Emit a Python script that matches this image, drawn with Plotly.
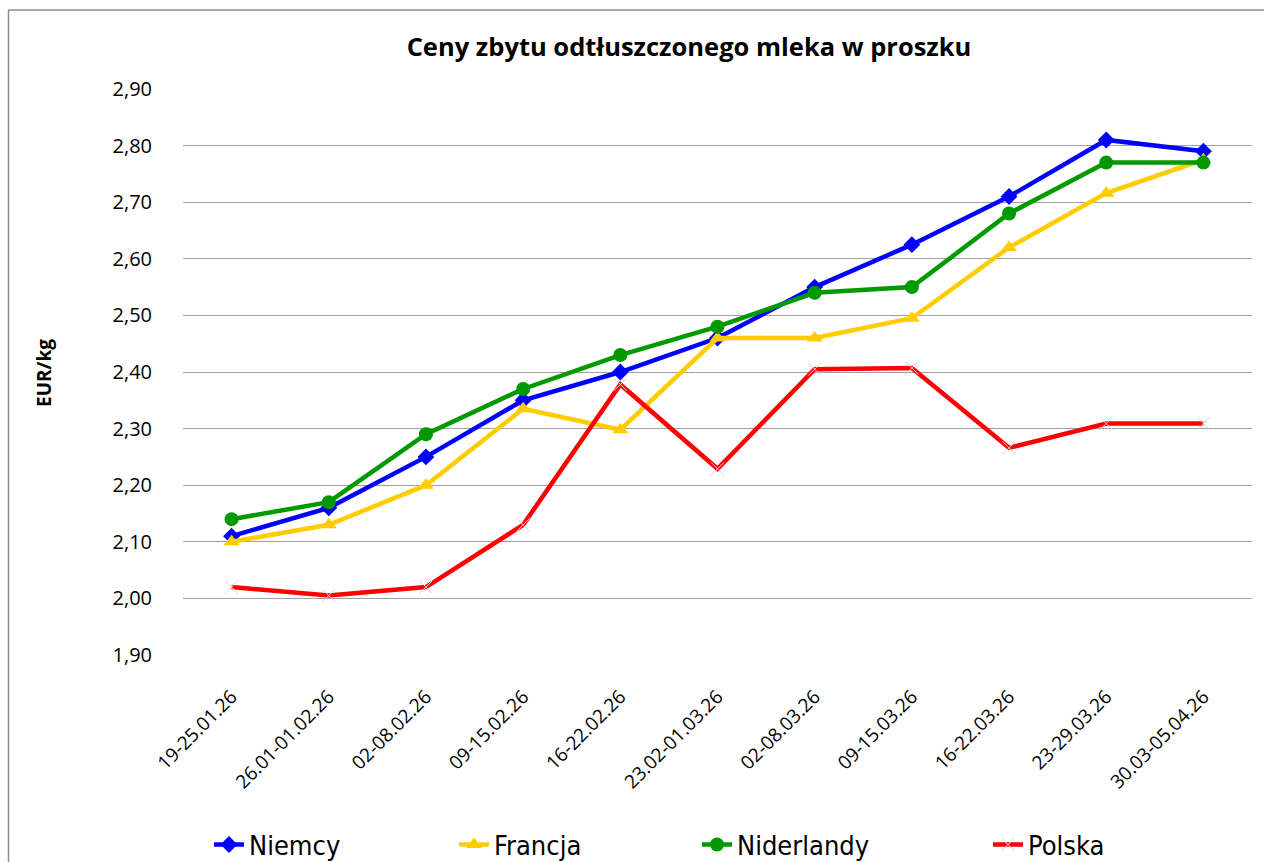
import plotly.graph_objects as go

# ── Data ──────────────────────────────────────────────────────────────────────
weeks = [
    "19-25.01.26", "26.01-01.02.26", "02-08.02.26", "09-15.02.26",
    "16-22.02.26", "23.02-01.03.26", "02-08.03.26", "09-15.03.26",
    "16-22.03.26", "23-29.03.26", "30.03-05.04.26",
]
niemcy     = [2.11, 2.16, 2.25, 2.35, 2.40, 2.46, 2.55, 2.625, 2.71, 2.81, 2.79]
francja    = [2.10, 2.13, 2.20, 2.335, 2.298, 2.46, 2.46, 2.495, 2.62, 2.716, 2.775]
niderlandy = [2.14, 2.17, 2.29, 2.37, 2.43, 2.48, 2.54, 2.55, 2.68, 2.77, 2.77]
polska     = [2.02, 2.005, 2.02, 2.13, 2.378, 2.229, 2.405, 2.407, 2.266, 2.309, 2.309]

y_ticks = [1.90, 2.00, 2.10, 2.20, 2.30, 2.40, 2.50, 2.60, 2.70, 2.80, 2.90]

FONT = "'Open Sans', Lato, sans-serif"
LEG_FONT = "'DejaVu Sans Condensed', 'Liberation Sans', sans-serif"

# body margin is removed in the page, so screen px == figure px
W, H = 1264, 862
L, R, T, B = 183, W - 1252, 89, H - 655
pw, ph = W - L - R, H - T - B

# (name, values, colour, symbol, size, legend id, legend text x)
series = [
    ("Niemcy", niemcy, "#0000FF", "diamond", 13, "legend", 249),
    ("Francja", francja, "#FFCC00", "triangle-up", 14, "legend2", 494),
    ("Niderlandy", niderlandy, "#009900", "circle", 14, "legend3", 737),
    ("Polska", polska, "#FF0000", "x-thin", 13, "legend4", 1028),
]

fig = go.Figure()
legends = {}
for name, vals, color, symbol, size, leg, tx in series:
    mk = dict(symbol=symbol, size=size, color=color)
    if name == "Polska":
        mk = dict(symbol=symbol, size=size, color="#d4d4e4",
                  line=dict(width=1, color="#d4d4e4"))
    fig.add_trace(go.Scatter(
        x=weeks, y=vals, name=name, mode="lines+markers",
        line=dict(color=color, width=4.5),
        marker=mk, legend=leg,
    ))
    legends[leg] = dict(
        orientation="h", xref="container", yref="container",
        x=(tx - 40) / W, xanchor="left",
        y=1 - 845 / H, yanchor="middle",
        font=dict(family=LEG_FONT, size=27, color="#000"),
        bgcolor="rgba(0,0,0,0)",
    )

# chart frame: only the top and left edges are inside the picture
fx0 = (8.5 - L) / pw
fy1 = (H - B - 10) / ph
fig.add_shape(type="line", xref="paper", yref="paper", layer="below",
              x0=fx0, x1=(W + 50 - L) / pw, y0=fy1, y1=fy1,
              line=dict(color="#8c8c8c", width=1.5))
fig.add_shape(type="line", xref="paper", yref="paper", layer="below",
              x0=fx0, x1=fx0, y0=fy1, y1=(H - B - (H + 50)) / ph,
              line=dict(color="#8c8c8c", width=1.5))

fig.add_annotation(text="<b>EUR/kg</b>", textangle=-90, showarrow=False,
                   xref="paper", yref="paper", xanchor="center", yanchor="middle",
                   x=(44 - L) / pw, y=(H - B - 373) / ph,
                   font=dict(family=FONT, size=19, color="#000"))

fig.update_layout(
    width=W, height=H,
    paper_bgcolor="white", plot_bgcolor="white",
    separators=", ",
    margin=dict(l=L, r=R, t=T, b=B, autoexpand=False),
    font=dict(family=FONT, color="#000"),
    title=dict(text="<b>Ceny zbytu odtłuszczonego mleka w proszku</b>",
               x=689 / W, y=1 - 47 / H,
               xanchor="center", yanchor="middle",
               font=dict(family=FONT, size=25.5, color="#000")),
    xaxis=dict(showgrid=False, tickangle=-45, showline=False, automargin=False,
               range=[-0.5, len(weeks) - 0.5],
               tickfont=dict(family=FONT, size=19),
               ticks="outside", ticklen=22, tickcolor="rgba(0,0,0,0)"),
    yaxis=dict(range=[1.90, 2.90], tickvals=y_ticks, tickformat=".2f",
               showgrid=True, gridcolor="#a0a0a0", gridwidth=1.3,
               zeroline=False, showline=False, automargin=False,
               tickfont=dict(family=FONT, size=20),
               ticks="outside", ticklen=26, tickcolor="rgba(0,0,0,0)"),
    showlegend=True,
    **legends,
)

fig.write_html("out.html",
               config={"displayModeBar": False},
               post_script="document.body.style.margin='0';"
                           "document.body.style.overflow='hidden';")
